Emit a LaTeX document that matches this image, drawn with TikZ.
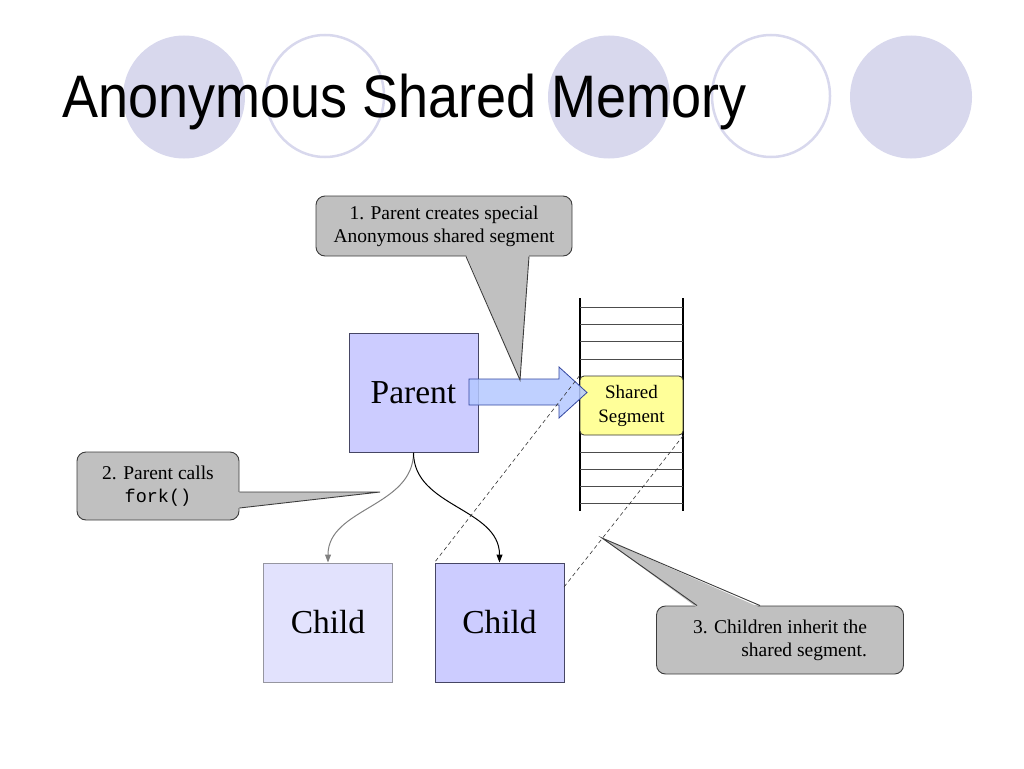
\documentclass[tikz,border=0pt]{standalone}
\usepackage{fontspec}
\setmainfont{Liberation Serif}
\setsansfont{Liberation Sans}
\setmonofont{Liberation Mono}
\newfontfamily\titlefont{Liberation Sans}[FakeStretch=0.9]
\usetikzlibrary{arrows.meta}

\definecolor{bubble}{RGB}{216,216,237}
\definecolor{boxfill}{RGB}{204,204,255}
\definecolor{boxline}{RGB}{70,70,100}
\definecolor{palefill}{RGB}{226,226,253}
\definecolor{paleline}{RGB}{150,150,160}
\definecolor{segfill}{RGB}{255,255,153}
\definecolor{arrowfill}{RGB}{180,200,255}
\definecolor{arrowline}{RGB}{50,70,160}
\definecolor{callfill}{RGB}{192,192,192}
\definecolor{callline}{RGB}{60,60,60}

\begin{document}
\begin{tikzpicture}[x=1pt,y=-1pt,
    box/.style={draw=boxline,fill=boxfill,line width=1pt,minimum width=129pt,
        minimum height=119pt,inner sep=0pt,font=\fontsize{33.5}{38}\selectfont},
    pale box/.style={box,draw=paleline,fill=palefill},
    segment box/.style={draw=black!80,fill=segfill,rounded corners=4pt,line width=0.8pt,
        minimum width=103pt,minimum height=59pt,inner sep=0pt,align=center,
        font=\fontsize{19}{24}\selectfont},
    callout/.style={draw=callline,fill=callfill,rounded corners=9pt,line width=0.9pt,
        inner sep=0pt,font=\fontsize{19.5}{23}\selectfont},
    tail/.style={fill=callfill},
    tail line/.style={draw=callline,line width=0.9pt},
    fork line/.style={line width=1pt,-{Triangle[length=8pt,width=6pt]}},
    share line/.style={draw=black!80,line width=0.6pt,dash pattern=on 4pt off 3pt}]

    \useasboundingbox (0,0) rectangle (1024,768);

    % Title bubbles
    \foreach \x in {184,609,911}
        \fill[bubble] (\x,97) ellipse [x radius=61pt, y radius=61.5pt];
    \foreach \x in {325,771}
        \draw[bubble,line width=2.5pt] (\x,96) ellipse [x radius=59pt, y radius=61pt];
    \node[anchor=base west,inner sep=0pt,font=\titlefont\fontsize{60}{66}\selectfont] (title)
        at (62,117) {Anonymous Shared Memory};

    % Memory stack
    \draw[black,line width=1.1pt] (580,298) -- (580,511);
    \draw[black,line width=1.1pt] (683,298) -- (683,511);
    \foreach \y in {307,324,341,359,452,469,486,503}
        \draw[black!70,line width=0.7pt] (580,\y) -- (683,\y);

    % Define boxes
    \node[segment box] (seg) at (631.5,405.5) {Shared\\Segment};
    \node[box] (parent) at (413.5,392.5) {Parent};
    \node[pale box] (child1) at (328,622.5) {Child};
    \node[box] (child2) at (499.5,622.5) {Child};

    % Block arrow
    \filldraw[fill=arrowfill,fill opacity=0.85,draw=arrowline,line width=0.8pt]
        (469,379) -- (559,379) -- (559,367) -- (587,392.5) -- (559,418)
        -- (559,405) -- (469,405) -- cycle;

    % Draw edges
    \draw[fork line,black!50] (parent.south) to[out=-90,in=90] (child1.north);
    \draw[fork line,black] (parent.south) to[out=-90,in=90] (child2.north);

    \coordinate (hook) at (564,587);
    \draw[share line] (seg.north west) -- (child2.north west);
    \draw[share line] (seg.south east) -- (hook);

    % Callouts
    \node[callout,minimum width=256pt,minimum height=60pt,align=center] (call1)
        at (444,226) {1. Parent creates special\\Anonymous shared segment};
    \coordinate (tip1) at (520,380);
    \fill[tail] ([xshift=22pt,yshift=2pt]call1.south) -- (tip1) -- ([xshift=85pt,yshift=2pt]call1.south) -- cycle;
    \draw[tail line] ([xshift=22pt]call1.south) -- (tip1) -- ([xshift=85pt]call1.south);

    \node[callout,minimum width=162pt,minimum height=68pt,align=center] (call2)
        at (158,486) {2. Parent calls\\{\ttfamily\fontsize{18.5}{23}\selectfont fork()}};
    \coordinate (tip2) at (380,492);
    \fill[tail] ([xshift=-2pt,yshift=-6pt]call2.east) -- (tip2) -- ([xshift=-2pt,yshift=-22pt]call2.east) -- cycle;
    \draw[tail line] ([yshift=-6pt]call2.east) -- (tip2) -- ([yshift=-22pt]call2.east);

    \node[callout,minimum width=247pt,minimum height=68pt,align=right] (call3)
        at (780,640) {3. Children inherit the\\shared segment.};
    \coordinate (tip3) at (602,538);
    \fill[tail] ([xshift=-83pt,yshift=-2pt]call3.north) -- (tip3) -- ([xshift=-20pt,yshift=-2pt]call3.north) -- cycle;
    \draw[tail line] ([xshift=-83pt]call3.north) -- (tip3) -- ([xshift=-20pt]call3.north);

\end{tikzpicture}
\end{document}
